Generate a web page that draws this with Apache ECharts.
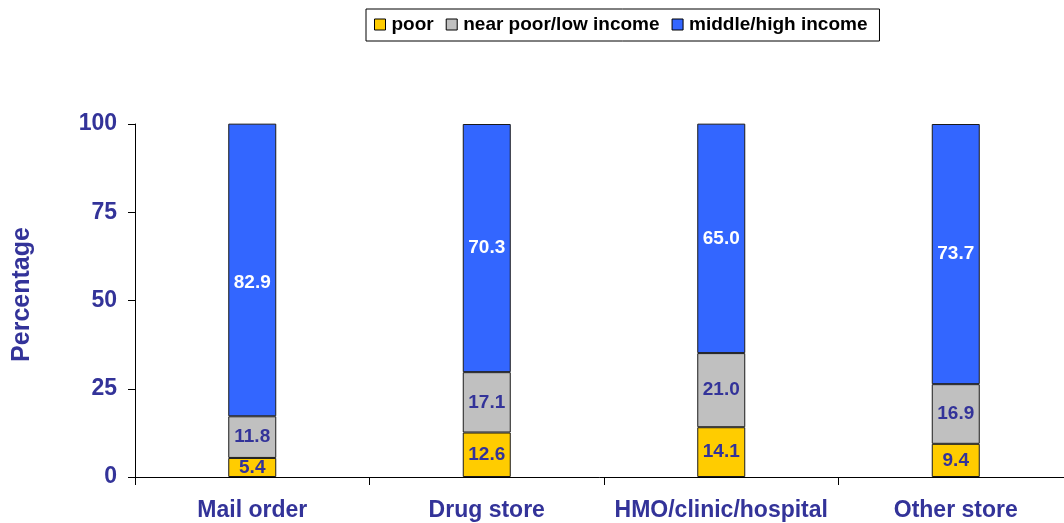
<!DOCTYPE html>
<html><head><meta charset="utf-8">
<script src="https://cdn.jsdelivr.net/npm/echarts@6/dist/echarts.min.js"></script>
<style>html,body{margin:0;padding:0;background:#fff}#c{width:1064px;height:523px}</style>
</head><body><div id="c"></div>
<script>
const categories = ['Mail order', 'Drug store', 'HMO/clinic/hospital', 'Other store'];
const poor = [5.4, 12.6, 14.1, 9.4];
const nearPoor = [11.8, 17.1, 21.0, 16.9];
const middleHigh = [82.9, 70.3, 65.0, 73.7];
const yTicks = [0, 25, 50, 75, 100];
const seriesNames = ['poor', 'near poor/low income', 'middle/high income'];

const navy = '#333399';
const font = 'Liberation Sans, Arial, sans-serif';
function mk(name, data, color, labelColor) {
  return {
    name, type: 'bar', stack: 'a', data, barWidth: 48,
    itemStyle: { color, borderColor: '#1a1a1a', borderWidth: 1 },
    label: { show: true, position: 'inside', formatter: p => Number(p.value).toFixed(1),
      color: labelColor, fontWeight: 'bold', fontSize: 19, fontFamily: font }
  };
}
// the reference places the first blue label slightly below the segment centre
const blueData = middleHigh.map((v, i) => i === 0 ? { value: v, label: { offset: [0, 13] } } : v);

const chart = echarts.init(document.getElementById('c'));
chart.setOption({
  animation: false,
  legend: {
    left: 366, top: 9, padding: [6, 12, 7, 8], itemGap: 12, itemWidth: 11, itemHeight: 11,
    borderColor: '#000', borderWidth: 1,
    icon: 'rect',
    textStyle: { fontWeight: 'bold', fontSize: 19, fontFamily: font, color: '#000', padding: [0, 0, 0, 1] },
    itemStyle: { borderColor: '#000', borderWidth: 1 },
    data: seriesNames
  },
  grid: { left: 135, width: 938, top: 124, bottom: 46, containLabel: false, outerBoundsMode: 'none' },
  xAxis: {
    type: 'category', data: categories,
    axisLine: { lineStyle: { color: '#000', width: 1 } },
    axisTick: { show: true, length: 8, interval: 0, lineStyle: { color: '#000' } },
    axisLabel: { color: navy, fontWeight: 'bold', fontSize: 23, fontFamily: font, margin: 22, interval: 0 }
  },
  yAxis: {
    type: 'value', min: 0, max: 100, interval: 25,
    name: 'Percentage', nameLocation: 'middle', nameGap: 100,
    nameTextStyle: { color: navy, fontWeight: 'bold', fontSize: 25, fontFamily: font, padding: [0, 0, 0, 12] },
    axisLine: { show: true, lineStyle: { color: '#000', width: 1 } },
    axisTick: { show: true, length: 7, lineStyle: { color: '#000' } },
    splitLine: { show: false },
    axisLabel: { color: navy, fontWeight: 'bold', fontSize: 23, fontFamily: font, margin: 18,
      formatter: v => yTicks.includes(v) ? String(v) : '' }
  },
  series: [
    mk(seriesNames[0], poor, '#FFCC00', navy),
    mk(seriesNames[1], nearPoor, '#C0C0C0', navy),
    mk(seriesNames[2], blueData, '#3366FF', '#fff')
  ]
});
</script></body></html>
